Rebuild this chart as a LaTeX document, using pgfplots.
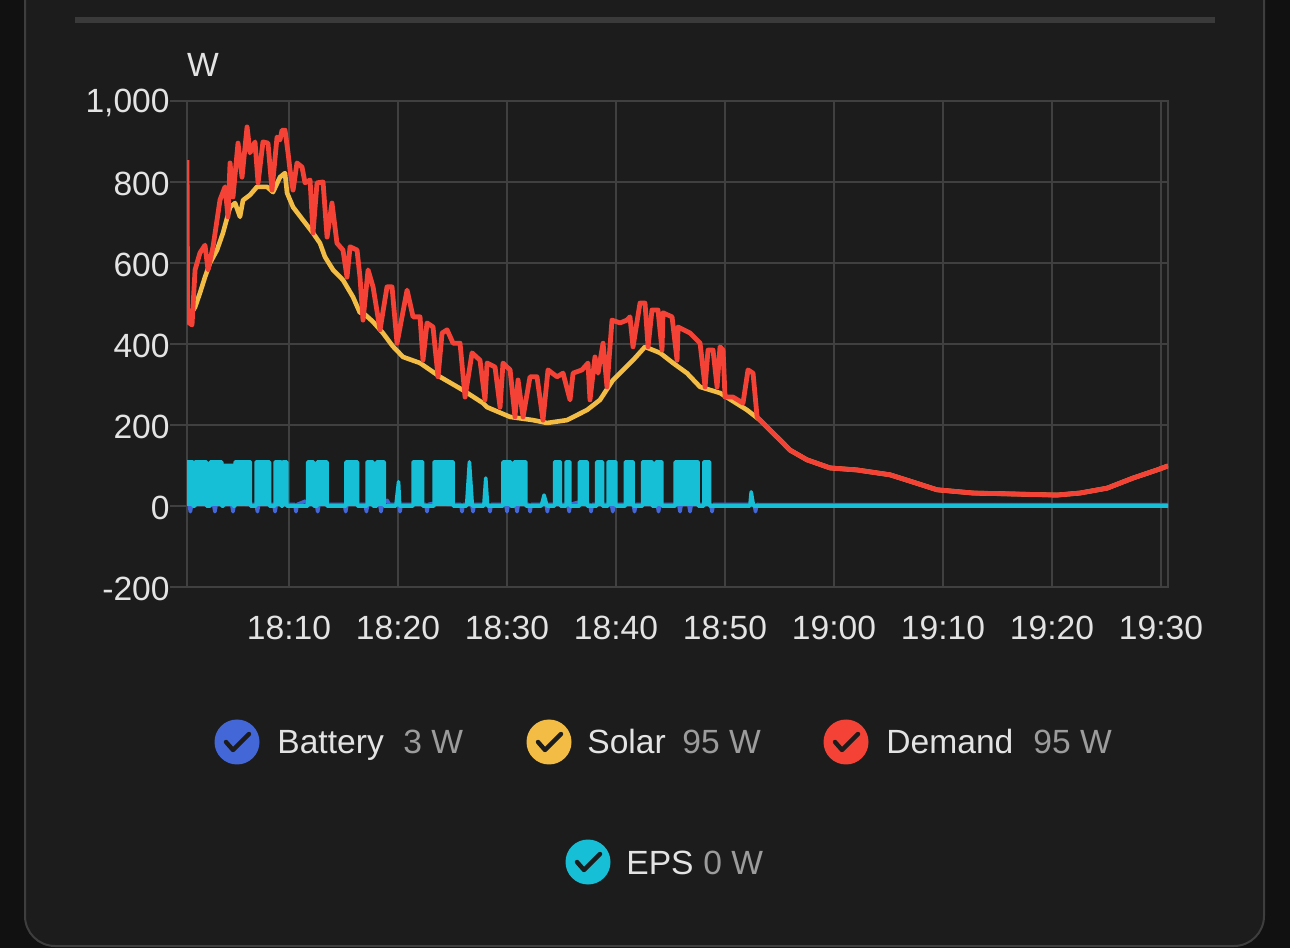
\documentclass[border=0pt]{standalone}
\usepackage{pgfplots}
\pgfplotsset{compat=1.18}
\usepackage{fontspec}
\setmainfont{Liberation Sans}
\definecolor{outerbg}{HTML}{111111}
\definecolor{cardbg}{HTML}{1C1C1C}
\definecolor{cardborder}{HTML}{3E3E3E}
\definecolor{sepc}{HTML}{3A3A3A}
\definecolor{gridc}{HTML}{404040}
\definecolor{textc}{HTML}{E3E3E3}
\definecolor{subc}{HTML}{9C9C9C}
\definecolor{batc}{HTML}{4467D8}
\definecolor{solc}{HTML}{F3BD45}
\definecolor{demc}{HTML}{F44336}
\definecolor{epsc}{HTML}{16BED6}
\newcommand{\fs}{\fontsize{16.8pt}{20pt}\selectfont}
\begin{document}
\begin{tikzpicture}[x=0.5pt,y=0.5pt]
\path[use as bounding box] (0,0) rectangle (1290,948);
\clip (0,0) rectangle (1290,948);
\fill[outerbg] (0,0) rectangle (1290,948);
\draw[cardborder, fill=cardbg, line width=1pt, rounded corners=15pt] (25,1010) rectangle (1264,2);
\draw[sepc, line width=3pt] (75,928) -- (1215,928);
\node[text=textc, font=\fs] at (203,883) {W};
\begin{axis}[at={(93.5pt,180.5pt)}, anchor=south west, scale only axis,
  width=490.5pt, height=243pt,
  xmin=0.64, xmax=90.64, ymin=-200, ymax=1000,
  xtick={10,20,30,40,50,60,70,80,90},
  xticklabels={18:10,18:20,18:30,18:40,18:50,19:00,19:10,19:20,19:30},
  ytick={-200,0,200,400,600,800,1000},
  yticklabels={-200,0,200,400,600,800,{1,000}},
  grid=major, major grid style={gridc, line width=1pt},
  axis line style={gridc, line width=1pt},
  tick align=outside, major tick length=8.5pt,
  ytick pos=left, xtick pos=bottom,
  xtick style={draw=none},
  ytick style={gridc, line width=1pt},
  ticklabel style={font=\fs, text=textc},
  yticklabel style={inner sep=0pt, yshift=-1pt},
  xticklabel style={inner sep=0pt, yshift=-6pt},
  clip=true,
]
% Battery
\addplot[batc, line width=1.8pt, line join=round] coordinates {
(0.64,8) (0.83,4) (0.95,-14) (1.07,4) (3.08,4) (3.2,-14) (3.32,4) (4.74,4) (4.86,-14) (4.98,4) (5.8,14) (6.0,4)
(6.98,4) (7.1,-14) (7.22,4) (8.60,4) (8.72,-14) (8.84,4) (10.52,4) (10.64,-14) (10.76,4) (11.5,12) (11.7,4)
(12.51,4) (12.63,-14) (12.75,4) (15.08,4) (15.2,-14) (15.32,4) (16.98,4) (17.1,-14) (17.22,4) (18.32,4) (18.44,-14) (18.56,4)
(19.0,14) (19.2,4) (20.06,4) (20.18,-14) (20.30,4) (22.54,4) (22.66,-14) (22.78,4) (24.3,12) (24.5,4)
(25.75,4) (25.87,-14) (25.99,4) (26.76,4) (26.88,-14) (27.0,4) (28.32,4) (28.44,-14) (28.56,4)
(29.88,4) (30.0,-14) (30.12,4) (30.80,4) (30.92,-14) (31.04,4) (31.99,4) (32.11,-14) (32.23,4)
(33.58,4) (33.7,-14) (33.82,4) (35.58,4) (35.7,-14) (35.82,4) (36.9,12) (37.1,4) (37.59,4) (37.71,-14) (37.83,4)
(39.58,4) (39.7,-14) (39.82,4) (41.58,4) (41.7,-14) (41.82,4) (43.78,4) (43.9,-14) (44.02,4)
(45.75,4) (45.87,-14) (45.99,4) (46.67,4) (46.79,-14) (46.91,4) (48.69,4) (48.81,-14) (48.93,4)
(52.68,4) (52.8,-14) (52.92,4) (53.2,3) (60,3) (70,3) (80,3) (90.64,3)
};
% Solar
\addplot[solc, line width=2.3pt, line join=round] coordinates {
(0.64,459) (1.38,491) (1.83,526) (2.29,565) (2.75,600) (3.39,632) (3.94,674) (4.59,738) (5.05,748) (5.50,714) (5.78,755)
(6.42,768) (7.06,788) (7.98,788) (8.53,775) (9.17,812) (9.63,822) (9.82,773) (10.37,738) (11.28,706) (12.20,674)
(12.84,649) (13.30,615) (14.04,583) (14.95,558) (15.87,516) (16.51,477) (16.79,477) (17.7,455) (18.62,427) (19.5,395)
(20.46,368) (22.02,353) (23.85,319) (25.96,286) (27.80,254) (28.17,244) (30.28,220) (32.39,212) (33.67,205)
(35.50,212) (37.34,237) (38.53,262) (39.72,311) (41.56,360) (42.66,393) (44.04,378) (45.23,353) (46.51,328)
(47.71,294) (49.54,279) (52.02,237) (53.21,212) (53.85,195) (54.40,180) (55.05,163) (55.96,138) (57.52,114)
(59.63,94) (62.11,89) (65.14,77) (67.25,59) (69.45,40) (72.75,32) (75.87,30) (80.46,27) (82.57,32) (85.05,44)
(87.43,69) (89.63,89) (90.64,99)
};
% Demand
\addplot[demc, line width=2.4pt, line join=round] coordinates {
(0.64,854) (0.70,455) (1.10,447) (1.38,583) (1.83,625) (2.29,644) (2.57,583) (3.03,640) (3.67,756) (4.13,788)
(4.40,714) (4.59,847) (4.86,763) (5.32,896) (5.69,812) (6.15,936) (6.42,872) (6.88,899) (7.16,798) (7.61,899)
(8.07,896) (8.44,780) (8.90,911) (9.17,904) (9.36,928) (9.63,928) (9.91,872) (10.09,830) (10.37,780) (10.73,847)
(11.19,837) (11.47,798) (11.93,805) (12.20,674) (12.57,798) (13.12,800) (13.49,664) (13.94,748) (14.40,649)
(14.95,632) (15.32,565) (15.60,640) (16.24,632) (16.51,565) (16.79,459) (17.25,583) (17.71,541) (18.35,435)
(18.99,541) (19.45,541) (19.91,402) (20.83,533) (21.38,467) (22.02,467) (22.29,360) (22.66,452) (23.21,442)
(23.67,319) (24.04,427) (24.50,435) (25.05,402) (25.69,402) (26.15,269) (26.79,378) (27.52,360) (27.98,262)
(28.17,353) (28.90,343) (29.36,244) (29.63,353) (30.28,336) (30.73,220) (31.01,311) (31.47,220) (32.11,319)
(32.75,319) (33.30,212) (33.76,336) (34.59,319) (35.14,328) (35.78,262) (36.06,328) (36.88,336) (37.43,353)
(37.61,262) (38.07,368) (38.35,328) (38.81,402) (39.17,294) (39.63,459) (40.37,452) (41.01,459) (41.28,467)
(41.56,393) (42.20,501) (42.66,501) (42.94,393) (43.30,484) (43.85,484) (44.22,385) (44.31,477) (45.14,467)
(45.60,360) (45.69,442) (46.79,427) (47.71,402) (48.17,294) (48.44,385) (48.90,385) (49.27,294) (49.54,393)
(49.82,385) (50.00,269) (50.73,269) (51.65,254) (52.11,336) (52.57,328) (52.94,220) (53.21,212) (53.85,195)
(54.40,180) (55.05,163) (55.96,138) (57.52,114) (59.63,94) (62.11,89) (65.14,77) (67.25,59) (69.45,40)
(72.75,32) (75.87,30) (80.46,27) (82.57,32) (85.05,44) (87.43,69) (89.63,89) (90.64,99)
};
% EPS
\addplot[epsc, fill=epsc, line width=1.8pt, line join=round] coordinates {
(0.64,0) (0.64,109) (1.19,109) (1.19,0) (1.37,0) (1.37,109) (2.42,109) (2.42,0) (2.77,0) (2.77,109) (3.83,109) (3.83,0)
(4.00,0) (4.00,100) (4.87,100) (4.87,0) (5.05,0) (5.05,109) (6.46,109) (6.46,0) (6.98,0) (6.98,109) (8.21,109) (8.21,0)
(8.73,0) (8.73,109) (9.27,109) (9.27,0) (9.44,0) (9.44,109) (9.79,109) (9.79,0)
(11.72,0) (11.72,109) (12.25,109) (12.25,0) (12.60,0) (12.60,109) (13.48,109) (13.48,0)
(15.23,0) (15.23,109) (16.28,109) (16.28,0) (17.17,0) (17.17,109) (17.69,109) (17.69,0)
(18.05,0) (18.05,109) (18.74,109) (18.74,0) (19.80,0) (20.05,60) (20.15,0)
(21.38,0) (21.38,109) (22.26,109) (22.26,0) (23.31,0) (23.31,109) (25.06,109) (25.06,0)
(26.29,0) (26.55,109) (26.82,0) (27.87,0) (28.05,69) (28.22,0)
(29.63,0) (29.63,109) (30.33,109) (30.33,0) (30.68,0) (30.68,109) (31.73,109) (31.73,0)
(33.14,0) (33.4,27) (33.67,0) (34.37,0) (34.37,109) (34.90,109) (34.90,0) (35.42,0) (35.42,109) (35.77,109) (35.77,0)
(36.65,0) (36.65,109) (37.35,109) (37.35,0) (38.23,0) (38.23,109) (38.76,109) (38.76,0)
(39.28,0) (39.28,109) (39.98,109) (39.98,0) (40.86,0) (40.86,109) (41.57,109) (41.57,0)
(42.44,0) (42.44,109) (43.32,109) (43.32,0) (43.67,0) (43.67,109) (44.20,109) (44.20,0)
(45.43,0) (45.43,109) (47.53,109) (47.53,0) (48.06,0) (48.06,109) (48.59,109) (48.59,0)
(52.28,0) (52.40,35) (52.62,0) (60,0) (70,0) (80,0) (90.64,0)
};
\end{axis}
% legend
\fill[batc] (237,206) circle (22.5);
\draw[cardbg, line width=2.2pt, line cap=round, line join=round] (226,206) -- (233,198) -- (249,214);
\node[anchor=base west, inner sep=0pt, text=textc, font=\fs] at (277,194) {Battery};
\node[anchor=base west, inner sep=0pt, text=subc, font=\fs] at (403,194) {3 W};
\fill[solc] (549,206) circle (22.5);
\draw[cardbg, line width=2.2pt, line cap=round, line join=round] (538,206) -- (545,198) -- (561,214);
\node[anchor=base west, inner sep=0pt, text=textc, font=\fs] at (587,194) {Solar};
\node[anchor=base west, inner sep=0pt, text=subc, font=\fs] at (682,194) {95 W};
\fill[demc] (846,206) circle (22.5);
\draw[cardbg, line width=2.2pt, line cap=round, line join=round] (835,206) -- (842,198) -- (858,214);
\node[anchor=base west, inner sep=0pt, text=textc, font=\fs] at (886,194) {Demand};
\node[anchor=base west, inner sep=0pt, text=subc, font=\fs] at (1033,194) {95 W};
\fill[epsc] (588,86) circle (22.5);
\draw[cardbg, line width=2.2pt, line cap=round, line join=round] (577,86) -- (584,78) -- (600,94);
\node[anchor=base west, inner sep=0pt, text=textc, font=\fs] at (626,74) {EPS};
\node[anchor=base west, inner sep=0pt, text=subc, font=\fs] at (703,74) {0 W};
\end{tikzpicture}
\end{document}
